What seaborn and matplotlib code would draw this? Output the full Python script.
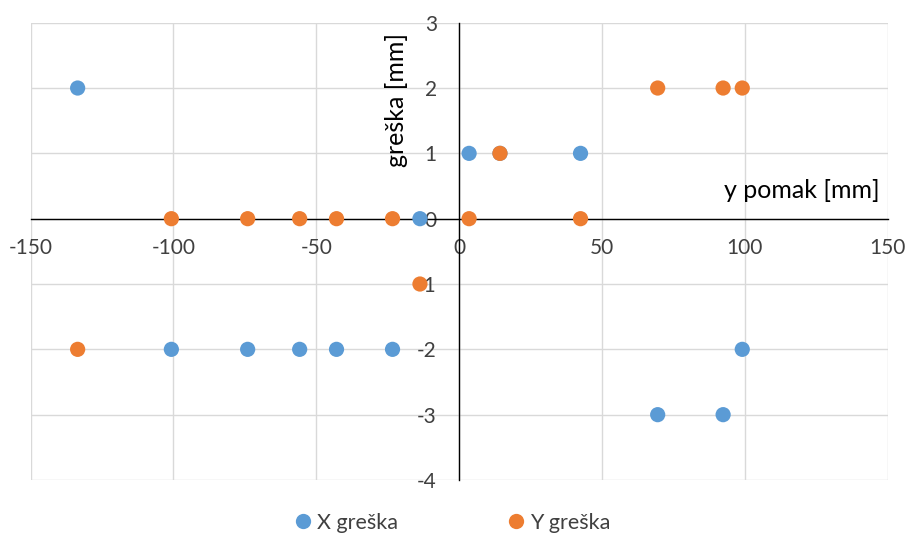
import numpy as np
import pandas as pd
import matplotlib
matplotlib.use("Agg")
import matplotlib.pyplot as plt
import seaborn as sns

# pomak (x axis) values, shared by both series
pomak = [-133.5, -100.7, -74.0, -55.8, -42.9, -23.3, -13.7, 3.5, 14.3, 42.5, 69.5, 92.4, 99.1]
x_greska = [2, -2, -2, -2, -2, -2, 0, 1, 1, 1, -3, -3, -2]
y_greska = [-2, 0, 0, 0, 0, 0, -1, 0, 1, 0, 2, 2, 2]
series_names = ["X greška", "Y greška"]
xticks = [-150, -100, -50, 0, 50, 100, 150]
yticks = [-4, -3, -2, -1, 0, 1, 2, 3]

df = pd.DataFrame({
    "pomak": pomak * 2,
    "greska": x_greska + y_greska,
    "serija": [series_names[0]] * len(pomak) + [series_names[1]] * len(pomak),
})

sns.set_style("white")
plt.rcParams["font.family"] = ["Lato", "DejaVu Sans"]
plt.rcParams["axes.unicode_minus"] = False

fig = plt.figure(figsize=(9.09, 5.35), dpi=100)
ax = fig.add_axes([30.5 / 909, 1 - 480 / 535, (887.7 - 30.5) / 909, (480 - 22.7) / 535])

sns.scatterplot(data=df, x="pomak", y="greska", hue="serija",
                palette=["#5B9BD5", "#ED7D31"], s=120, edgecolor="none",
                ax=ax, zorder=3, legend=False)

ax.set_xlim(-150, 150)
ax.set_ylim(-4, 3)
ax.set_xticks(xticks)
ax.set_yticks(yticks)
ax.grid(True, color="#D9D9D9", linewidth=1)
ax.set_axisbelow(True)

for s in ["top", "right"]:
    ax.spines[s].set_visible(False)
ax.spines["left"].set_position(("data", 0))
ax.spines["bottom"].set_position(("data", 0))
for s in ["left", "bottom"]:
    ax.spines[s].set_color("black")
    ax.spines[s].set_linewidth(1)
    ax.spines[s].set_zorder(2)
ax.tick_params(axis="x", length=0, labelsize=15, colors="#404040", pad=14)
ax.tick_params(axis="y", length=0, labelsize=15, colors="#404040", pad=16)
ax.set_xlabel("")
ax.set_ylabel("")

fig.text(397 / 909, 1 - 100 / 535, "greška [mm]", rotation=90, ha="center",
         va="center", fontsize=18, color="black")
fig.text(880 / 909, 1 - 190 / 535, "y pomak [mm]", ha="right", va="center",
         fontsize=18, color="black")

handles = [plt.Line2D([], [], marker="o", linestyle="", markersize=11,
                      markerfacecolor=c, markeredgecolor="none")
           for c in ["#5B9BD5", "#ED7D31"]]
fig.legend(handles, series_names, loc="center", bbox_to_anchor=(446 / 909, 1 - 523 / 535),
           ncol=2, frameon=False, fontsize=15.5, handletextpad=-0.35, columnspacing=4.5,
           labelcolor="#404040")

fig.savefig("out.png", dpi=100)
